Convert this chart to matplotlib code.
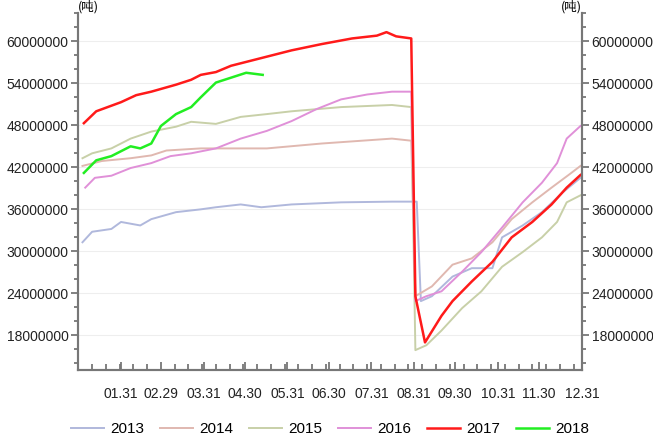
import matplotlib
matplotlib.use("Agg")
import matplotlib.pyplot as plt
from matplotlib.ticker import MultipleLocator, FixedLocator

plt.rcParams['font.family'] = ['Liberation Sans', 'DejaVu Sans', 'Noto Sans CJK SC']

d13 = [3, 10, 24, 31, 45, 53, 71, 89, 100, 118, 133, 155, 191, 228, 246, 249, 257, 272, 286, 301, 308, 323, 337, 352, 365]
v13 = [31.3, 32.8, 33.2, 34.2, 33.7, 34.6, 35.6, 36.0, 36.3, 36.7, 36.3, 36.7, 37.0, 37.1, 37.1, 22.9, 23.6, 26.4, 27.6, 27.6, 32.0, 33.7, 35.6, 38.4, 40.5]

d14 = [3, 17, 38, 53, 64, 89, 137, 177, 228, 242, 245, 257, 272, 286, 301, 315, 330, 344, 357, 365]
v14 = [42.2, 42.9, 43.3, 43.7, 44.4, 44.7, 44.7, 45.4, 46.1, 45.8, 23.6, 25.0, 28.1, 29.0, 31.3, 34.6, 37.0, 39.1, 41.0, 42.2]

d15 = [3, 10, 24, 38, 53, 71, 82, 100, 118, 137, 155, 191, 228, 242, 245, 253, 264, 279, 293, 308, 323, 337, 348, 355, 365]
v15 = [43.3, 44.0, 44.7, 46.1, 47.1, 47.8, 48.5, 48.2, 49.2, 49.6, 50.0, 50.6, 50.9, 50.6, 15.9, 16.6, 18.7, 21.9, 24.3, 27.8, 29.9, 32.0, 34.2, 37.0, 38.0]

d16 = [5, 12, 24, 38, 53, 67, 82, 100, 118, 137, 155, 173, 191, 210, 228, 242, 245, 253, 264, 279, 293, 308, 323, 337, 348, 355, 365]
v16 = [39.1, 40.5, 40.8, 41.9, 42.6, 43.6, 44.0, 44.7, 46.1, 47.2, 48.6, 50.3, 51.7, 52.4, 52.8, 52.8, 22.9, 23.6, 24.3, 27.1, 29.9, 33.4, 37.0, 39.8, 42.6, 46.1, 47.9]

d17 = [4, 13, 31, 42, 53, 71, 82, 89, 100, 111, 133, 155, 177, 199, 217, 224, 231, 242, 245, 252, 264, 272, 286, 301, 315, 330, 344, 355, 365]
v17 = [48.3, 50.0, 51.3, 52.3, 52.8, 53.8, 54.5, 55.2, 55.6, 56.5, 57.6, 58.7, 59.6, 60.4, 60.8, 61.3, 60.7, 60.4, 23.6, 17.0, 20.8, 22.9, 25.7, 28.5, 32.0, 34.2, 36.7, 39.1, 40.9]

d18 = [4, 13, 24, 38, 45, 53, 60, 71, 82, 89, 100, 111, 122, 134]
v18 = [41.2, 43.0, 43.6, 45.0, 44.7, 45.4, 47.9, 49.6, 50.6, 52.0, 54.1, 54.8, 55.5, 55.2]

series = [("2013", d13, v13, "#b0b8dc"), ("2014", d14, v14, "#e0b8b0"),
          ("2015", d15, v15, "#c8d0a8"), ("2016", d16, v16, "#e090d8"),
          ("2017", d17, v17, "#ff1a1a"), ("2018", d18, v18, "#22ee22")]

tick_days = [31, 60, 91, 121, 152, 182, 213, 244, 274, 305, 335, 366]
tick_labels = ["01.31", "02.29", "03.31", "04.30", "05.31", "06.30", "07.31", "08.31", "09.30", "10.31", "11.30", "12.31"]
yticks = [18e6, 24e6, 30e6, 36e6, 42e6, 48e6, 54e6, 60e6]

fig = plt.figure(figsize=(6.53, 4.41), dpi=100)
ax = fig.add_axes([0.12, 0.16, 0.771, 0.81])
for name, d, v, c in series:
    lw = 1.8 if name in ("2017", "2018") else 1.4
    ax.plot(d, [x * 1e6 for x in v], color=c, lw=lw, label=name)

ax.set_xlim(0, 366)
ax.set_ylim(13e6, 64e6)
ax.xaxis.set_major_locator(FixedLocator(tick_days))
ax.set_xticklabels(tick_labels)
ax.xaxis.set_minor_locator(MultipleLocator(10))
ax.set_yticks(yticks)
ax.set_yticklabels([str(int(y)) for y in yticks])
ax.yaxis.set_minor_locator(MultipleLocator(2e6))
ax.grid(axis='y', color='#eeeeee', lw=0.8)
ax.set_axisbelow(True)
ax2 = ax.twinx()
ax2.set_ylim(ax.get_ylim())
ax2.set_yticks(yticks)
ax2.set_yticklabels([str(int(y)) for y in yticks])
ax2.yaxis.set_minor_locator(MultipleLocator(2e6))
for a in (ax, ax2):
    for s in a.spines.values():
        s.set_color('#777777'); s.set_linewidth(1.5)
    a.spines['top'].set_visible(False)
    a.tick_params(which='both', color='#777777', labelsize=10, labelcolor='#222222')
    a.tick_params(which='major', length=5, width=1.3, pad=2)
    a.tick_params(which='minor', length=3, width=1.3)
ax.tick_params(axis='x', direction='in', length=6, pad=12)
ax.tick_params(axis='x', which='minor', direction='in', length=4)
ax.text(0, 1.0, "(吨)", transform=ax.transAxes, fontsize=9, family=['Noto Sans CJK SC'], va='bottom', ha='left')
ax.text(1.0, 1.0, "(吨)", transform=ax.transAxes, fontsize=9, family=['Noto Sans CJK SC'], va='bottom', ha='right')
ax.legend(loc='upper center', bbox_to_anchor=(0.5, -0.115), ncol=6, frameon=False, fontsize=11,
          handlelength=2.2, handletextpad=0.4, columnspacing=1.0, borderpad=0.2)
fig.savefig("out.png", dpi=100)
